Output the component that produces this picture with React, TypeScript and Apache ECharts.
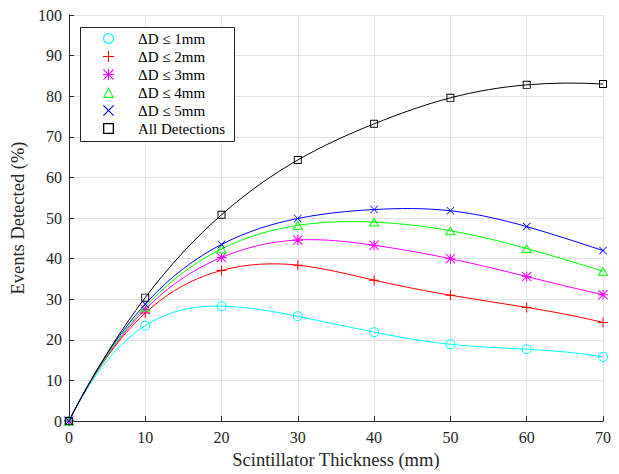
import React, { useEffect, useRef } from "react";
import * as echarts from "echarts";

const thickness = [0, 10, 20, 30, 40, 50, 60, 70];
const seriesNames = ["ΔD ≤ 1mm", "ΔD ≤ 2mm", "ΔD ≤ 3mm", "ΔD ≤ 4mm", "ΔD ≤ 5mm", "All Detections"];
const d1 = [0, 23.5, 28.3, 25.8, 21.9, 18.9, 17.7, 15.8];
const d2 = [0, 26.6, 37.1, 38.4, 34.7, 31.0, 28.0, 24.3];
const d3 = [0, 27.5, 40.3, 44.6, 43.3, 40.0, 35.6, 31.1];
const d4 = [0, 28.1, 42.4, 48.2, 49.0, 46.9, 42.5, 36.9];
const d5 = [0, 28.8, 43.5, 49.9, 52.1, 51.8, 47.9, 42.0];
const dAll = [0, 30.4, 50.8, 64.3, 73.2, 79.6, 82.8, 83.0];
const yTicks = { min: 0, max: 100, interval: 10 };
const xTicks = { min: 0, max: 70, interval: 10 };

const colors = ["#00ffff", "#ff0000", "#ff00ff", "#00ff00", "#0000ff", "#000000"];
const RING = "path://M50 0 A50 50 0 1 1 50 100 A50 50 0 1 1 50 0 Z M50 10 A40 40 0 1 0 50 90 A40 40 0 1 0 50 10 Z";
const PLUS = "path://M45 0 H55 V45 H100 V55 H55 V100 H45 V55 H0 V45 H45 Z";
const XPATH = "M0 7 L7 0 L50 43 L93 0 L100 7 L57 50 L100 93 L93 100 L50 57 L7 100 L0 93 L43 50 Z";
const CROSS = "path://" + XPATH;
const STAR = PLUS + " " + XPATH;
const TRI = "path://M50 0 L100 100 L0 100 Z M50 21 L16 89 L84 89 Z";
const SQUARE = "path://M0 0 H100 V100 H0 Z M12 12 V88 H88 V12 Z";
const symbols = [RING, PLUS, STAR, TRI, CROSS, SQUARE];
const symbolSizes: (number | number[])[] = [10, 10, 10, [11, 9], 8, 8];
const allData = [d1, d2, d3, d4, d5, dAll];

const FONT = "Liberation Serif";

// Not-a-knot cubic spline second derivatives (rendering of the curve between the data points)
function splineSecondDerivs(xs: number[], ys: number[]): number[] {
  const n = xs.length;
  const A: number[][] = [];
  const b: number[] = [];
  for (let r = 0; r < n; r++) {
    A.push(new Array(n).fill(0));
    b.push(0);
  }
  A[0][0] = 1; A[0][1] = -2; A[0][2] = 1;
  A[n - 1][n - 3] = 1; A[n - 1][n - 2] = -2; A[n - 1][n - 1] = 1;
  for (let i = 1; i < n - 1; i++) {
    const h0 = xs[i] - xs[i - 1];
    const h1 = xs[i + 1] - xs[i];
    A[i][i - 1] = h0 / 6;
    A[i][i] = (h0 + h1) / 3;
    A[i][i + 1] = h1 / 6;
    b[i] = (ys[i + 1] - ys[i]) / h1 - (ys[i] - ys[i - 1]) / h0;
  }
  for (let c = 0; c < n; c++) {
    let p = c;
    for (let r = c + 1; r < n; r++) if (Math.abs(A[r][c]) > Math.abs(A[p][c])) p = r;
    [A[c], A[p]] = [A[p], A[c]];
    [b[c], b[p]] = [b[p], b[c]];
    for (let r = c + 1; r < n; r++) {
      const f = A[r][c] / A[c][c];
      for (let k = c; k < n; k++) A[r][k] -= f * A[c][k];
      b[r] -= f * b[c];
    }
  }
  const M = new Array(n).fill(0);
  for (let r = n - 1; r >= 0; r--) {
    let s = b[r];
    for (let k = r + 1; k < n; k++) s -= A[r][k] * M[k];
    M[r] = s / A[r][r];
  }
  return M;
}

export default function App() {
  const ref = useRef<HTMLDivElement>(null);
  useEffect(() => {
    if (!ref.current) return;
    const chart = echarts.init(ref.current, undefined, { renderer: "svg" });

    const curveSeries = allData.map((d, si) => {
      const M = splineSecondDerivs(thickness, d);
      return {
        type: "custom",
        name: "curve" + si,
        silent: true,
        z: 2 + si,
        data: thickness.map((x, j) => [x, d[j]]),
        encode: { x: 0, y: 1 },
        renderItem: (params: any, api: any) => {
          const i = params.dataIndex;
          if (i >= thickness.length - 1) return { type: "group", children: [] };
          const x0 = thickness[i], x1 = thickness[i + 1];
          const y0 = d[i], y1 = d[i + 1];
          const h = x1 - x0;
          const s0 = (y1 - y0) / h - (h * (2 * M[i] + M[i + 1])) / 6;
          const s1 = (y1 - y0) / h + (h * (M[i] + 2 * M[i + 1])) / 6;
          const p0 = api.coord([x0, y0]);
          const p1 = api.coord([x1, y1]);
          const c1 = api.coord([x0 + h / 3, y0 + (h / 3) * s0]);
          const c2 = api.coord([x1 - h / 3, y1 - (h / 3) * s1]);
          return {
            type: "bezierCurve",
            shape: {
              x1: p0[0], y1: p0[1], x2: p1[0], y2: p1[1],
              cpx1: c1[0], cpy1: c1[1], cpx2: c2[0], cpy2: c2[1],
            },
            style: { stroke: colors[si], fill: "none", lineWidth: 1 },
          };
        },
      };
    });

    const markerSeries = allData.map((d, i) => ({
      type: "line",
      name: seriesNames[i],
      data: thickness.map((x, j) => [x, d[j]]),
      symbol: symbols[i],
      symbolSize: symbolSizes[i],
      showAllSymbol: true,
      color: colors[i],
      lineStyle: { width: 0, opacity: 0 },
      itemStyle: { color: colors[i], borderWidth: 0 },
      emphasis: { disabled: true },
      silent: true,
      z: 10 + i,
    }));

    chart.setOption({
      animation: false,
      backgroundColor: "#ffffff",
      textStyle: { fontFamily: FONT },
      grid: { left: 67, right: 16, top: 15, bottom: 52, containLabel: false },
      xAxis: {
        type: "value",
        ...xTicks,
        name: "Scintillator Thickness (mm)",
        nameLocation: "middle",
        nameGap: 24,
        nameTextStyle: { fontFamily: FONT, fontSize: 18.5, color: "#262626" },
        axisLine: { lineStyle: { color: "#262626", width: 1 } },
        axisTick: { inside: true, length: 5, lineStyle: { color: "#262626" } },
        axisLabel: { fontFamily: FONT, fontSize: 16, color: "#262626", margin: 8 },
        splitLine: { show: true, lineStyle: { color: "#e3e3e3", width: 1 } },
      },
      yAxis: {
        type: "value",
        ...yTicks,
        name: "Events Detected (%)",
        nameLocation: "middle",
        nameGap: 38,
        nameTextStyle: { fontFamily: FONT, fontSize: 18.5, color: "#262626" },
        axisLine: { show: true, lineStyle: { color: "#262626", width: 1 } },
        axisTick: { show: true, inside: true, length: 5, lineStyle: { color: "#262626" } },
        axisLabel: { fontFamily: FONT, fontSize: 16, color: "#262626", margin: 7 },
        splitLine: { show: true, lineStyle: { color: "#e3e3e3", width: 1 } },
      },
      graphic: [
        {
          type: "rect",
          left: 80,
          top: 27,
          shape: { width: 154, height: 114 },
          style: { fill: "#ffffff", stroke: "#262626", lineWidth: 1 },
          z: 90,
        },
      ],
      legend: {
        orient: "vertical",
        left: 80,
        top: 29,
        padding: [2, 6, 2, 23],
        itemWidth: 11,
        itemHeight: 11,
        itemGap: 3,
        z: 100,
        selectedMode: false,
        textStyle: { fontFamily: FONT, fontSize: 15, color: "#000000", padding: [0, 0, 0, 19] },
        data: seriesNames.map((n, i) => ({
          name: n,
          icon: symbols[i],
          itemStyle: { color: colors[i], borderWidth: 0 },
        })),
      },
      series: [...curveSeries, ...markerSeries],
    });
    return () => chart.dispose();
  }, []);
  return <div ref={ref} style={{ width: 619, height: 474, position: "absolute", left: 0, top: 0 }} />;
}
